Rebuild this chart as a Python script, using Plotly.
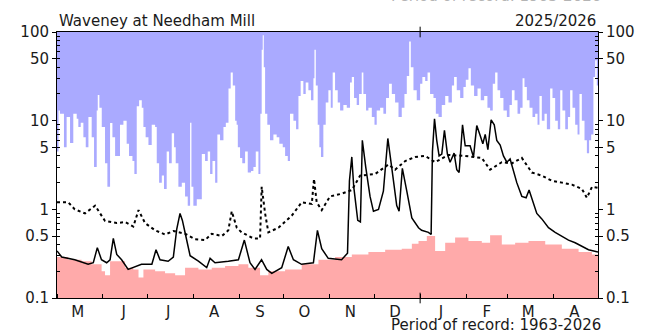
import pandas as pd
import plotly.graph_objects as go

START = "2025-05-01"
END = "2026-05-01"
TITLE = "Waveney at Needham Mill"
YEAR_LABEL = "2025/2026"
RECORD_LABEL = "Period of record: 1963-2026"

MONTH_LABELS = ["M", "J", "J", "A", "S", "O", "N", "D", "J", "F", "M", "A"]
Y_TICKS = [0.1, 0.5, 1, 5, 10, 50, 100]
Y_TICK_TEXT = ["0.1", "0.5", "1", "5", "10", "50", "100"]

# Daily maximum flow on record (m3/s): day offset from 1 May, value
max_day = [0, 1, 2, 4.7, 6.5, 8.8, 11, 13.3, 14.4, 16, 17.8, 19.4, 21.2, 23.4, 25, 26.8, 27.5, 28.6,
           30.2, 32.4, 34, 35.8, 37.4, 39.2, 42.5, 44.8, 47, 48.6, 50.9, 52.2, 53.8, 55.4, 57.2,
           58.3, 59.8, 61.7, 63.9, 66.2, 67.3, 68.9, 70.7, 72.2, 74, 75.6, 77.4, 79, 80.1, 81.9,
           84.2, 86.4, 88.2, 89.8, 90.7, 92, 94.3, 97.7, 99.9, 101.7, 103.3, 104.9, 106.7, 108.2,
           110, 112.3, 113.9, 115.7, 117.2, 118.6, 120.2, 121.2, 122, 123.5, 125, 126.9, 128.7,
           130.9, 132.5, 134.1, 135.9, 137.2, 138.1, 138.8, 139.5, 140.4, 141.9, 143.7, 146,
           148.2, 150, 152.3, 153.9, 155.7, 157.2, 159.5, 161.3, 162.9, 164.4, 166.2, 167.8,
           169.6, 171.4, 173, 173.7, 174.6, 175.9, 177, 178.1, 179.7, 181.3, 183.1, 184.7, 186,
           187.6, 189.4, 191, 193.2, 195.5, 197.7, 198.9, 200.4, 202.2, 203.8, 205.6, 206.7,
           208.5, 210.1, 212.4, 214.2, 215.7, 218, 220.2, 222, 224, 225.9, 228.1, 230.4, 232.6,
           234.4, 236, 237.6, 238.7, 240.5, 242.7, 245, 246.5, 248.4, 250, 251.7, 254, 255.6,
           257.4, 259.6, 261.9, 264.1, 266.4, 267.9, 269.7, 272, 274.2, 275.8, 277.6, 279.2,
           281.4, 283.7, 285.9, 288.2, 290.4, 292.2, 294, 295.6, 297.2, 299, 301.2, 303.5, 305.3,
           306.9, 308.7, 310.7, 312.5, 314.1, 315.4, 317, 318.8, 320.8, 322.6, 324.2, 325.5,
           327.1, 328.9, 330.5, 332.7, 334.3, 336.1, 337.9, 339.5, 341, 342.9, 344.7, 346.2,
           347.8, 349.6, 351.2, 352.5, 354.1, 355.9, 357.5, 359, 360.4, 361.9, 363.1, 364.2, 365]
max_val = [4.5, 13, 12, 5, 11, 5.6, 12, 10.5, 8.5, 9.5, 6.5, 5, 11, 6.5, 3.0, 13, 19.5, 14,
           8.5, 3.3, 1.8, 9.4, 6.5, 4.0, 9, 10, 5.5, 4, 3.5, 2.5, 14.5, 17, 14,
           8.5, 6.5, 5.3, 9, 8.5, 3.3, 2.0, 2.4, 1.7, 4.5, 3.3, 7.2, 5, 3.3, 1.8,
           2.0, 1.4, 1.1, 9.5, 1.8, 1.1, 1.3, 4.2, 3.5, 4.5, 2.5, 3.5, 2.0, 7,
           6, 8.5, 9.5, 23, 35, 25, 10, 9, 5, 3.8, 3.3, 4.5, 2.6,
           2.7, 3.0, 4.5, 2.5, 12, 63, 92, 40, 12, 9, 6, 7,
           6.5, 5.5, 5, 4, 3.5, 12, 10, 8, 19, 28, 20, 27,
           22, 17, 30, 63, 25, 9, 5, 3.9, 9, 16, 22, 14, 35,
           22, 16, 13, 15, 14, 27, 31, 18, 15, 20, 35, 20,
           13, 14, 11, 9, 13, 14, 12, 18, 26, 20, 16, 11, 14,
           20, 32, 78, 40, 22, 17, 26, 31, 28, 35, 20, 18, 12,
           11, 15, 19, 16, 25, 31, 22, 18, 24, 29, 39, 25,
           19, 23, 17, 19, 14, 13, 26, 35, 22, 18, 13, 11, 15,
           22, 17, 12, 14, 30, 24, 17, 14, 11, 12, 9, 19,
           10, 12, 8, 23, 18, 10, 8, 22, 13, 8, 11, 22,
           14, 9, 7, 20, 10, 6, 4.3, 6, 7, 31, 48, 25, 25]

# Daily minimum flow on record
min_day = [0, 7.6, 16.6, 23.4, 30.1, 32.4, 35.8, 41.4, 45.9, 51.5, 55, 58.3, 66.2, 72.9, 79.7,
           86.4, 95.4, 104.4, 113.4, 122.4, 129.1, 137, 142.6, 153.9, 165.1, 176.4, 187.6,
           198.9, 210.1, 221.4, 232.6, 239.4, 243.9, 249.5, 255.1, 261.9, 268.6, 277.6, 286.6,
           292.2, 300.1, 309.1, 318.1, 329.4, 340.6, 351.9, 360.9, 365]
min_val = [0.29, 0.27, 0.26, 0.24, 0.20, 0.18, 0.26, 0.26, 0.22, 0.21, 0.17, 0.21, 0.20, 0.19,
           0.18, 0.22, 0.21, 0.22, 0.23, 0.24, 0.22, 0.18, 0.20, 0.21, 0.24, 0.27, 0.29,
           0.31, 0.33, 0.35, 0.36, 0.41, 0.44, 0.50, 0.34, 0.42, 0.48, 0.44, 0.42,
           0.51, 0.40, 0.42, 0.44, 0.40, 0.36, 0.33, 0.31, 0.30]

# Long-term mean daily flow
mean_day = [0, 7.6, 12, 18.9, 25.7, 32.4, 40.3, 45.9, 51.5, 55, 59.4, 66.2, 72.9, 78.5, 86.4,
            93.2, 99.9, 104.4, 111.2, 115.6, 117.9, 121.3, 124.6, 132.5, 137, 138.1, 140.4,
            142.6, 149.4, 158.4, 165.1, 171.9, 173.4, 175.2, 178.6, 184.2, 192, 198.9, 204.5,
            214.6, 223.6, 228.1, 234.9, 241.6, 248.4, 255.1, 264.1, 275.4, 286.6, 292.2, 300.1,
            306.9, 313.6, 320.4, 327.1, 333.9, 340.6, 347.4, 354.1, 357.5, 361, 365]
mean_val = [1.2, 1.2, 1.0, 0.9, 1.1, 0.74, 0.7, 0.72, 0.64, 0.98, 0.7, 0.58, 0.52, 0.57, 0.53,
            0.46, 0.45, 0.53, 0.5, 0.58, 0.95, 0.62, 0.55, 0.47, 0.47, 1.8, 0.9,
            0.55, 0.62, 0.85, 1.2, 1.15, 2.2, 1.2, 0.98, 1.4, 1.5, 1.65, 2.4,
            2.5, 3.2, 2.8, 3.5, 3.9, 4.0, 3.4, 4.1, 4.0, 3.8, 2.8, 3.4,
            3.3, 3.8, 2.6, 2.4, 2.1, 2.0, 1.9, 1.7, 1.35, 1.8, 1.75]

# 2025/2026 daily mean flow
flow_day = [0, 3.2, 12, 21, 24.5, 27.2, 30, 33.5, 35.8, 38, 40.3, 43.6, 48, 51.5, 57, 64, 66.8,
            69.5, 75, 78.5, 80.8, 83, 84.6, 86.9, 89.8, 95.4, 101, 103.3, 106.6, 115.6, 122.4,
            126.4, 130.2, 133.6, 138, 141.5, 144.9, 151.6, 156, 159.5, 165, 173, 175.7, 178.6,
            183, 192, 196, 197.3, 198.9, 200.2, 202.9, 204.7, 206, 208.3, 211.2, 213.5, 216.9,
            220.2, 223.2, 225.8, 229.2, 230.8, 233, 236, 239.4, 243.9, 246, 250.6, 252.4, 253.3,
            254.7, 256.2, 257.8, 259.6, 261.4, 263.4, 265.2, 267.9, 269.7, 271.3, 273.6, 275.4,
            278.7, 281, 283.2, 285.5, 287.3, 288.9, 290.7, 292.9, 295, 296.7, 299, 301.2, 303.5,
            305.7, 308, 310.2, 313.6, 316.5, 318.5, 321.5, 323.7, 327.1, 331.6, 336.1, 340.6,
            345.1, 349.6, 354.1, 358.6, 365]
flow_val = [0.34, 0.29, 0.27, 0.24, 0.25, 0.37, 0.27, 0.25, 0.27, 0.47, 0.31, 0.27, 0.21, 0.22,
            0.24, 0.24, 0.35, 0.27, 0.26, 0.29, 0.6, 0.9, 0.75, 0.5, 0.3, 0.26, 0.22, 0.28, 0.25,
            0.26, 0.27, 0.45, 0.25, 0.21, 0.27, 0.21, 0.19, 0.22, 0.38, 0.27, 0.24, 0.25, 0.58,
            0.36, 0.28, 0.27, 0.32, 2.1, 3.9, 1.8, 0.75, 0.72, 6.0, 3.0, 1.4, 0.95, 1.0, 1.6,
            6.3, 3.0, 1.1, 0.95, 2.9, 1.6, 0.8, 0.62, 0.58, 0.55, 0.52, 4.5, 10.5, 6.0, 4.0,
            4.2, 7.8, 4.2, 3.4, 4.3, 2.8, 2.6, 9.0, 5.2, 5.2, 3.9, 8.8, 6.8, 5.5, 7.0, 4.7,
            10.2, 9.0, 6.0, 5.3, 4.0, 3.4, 3.7, 2.6, 2.0, 1.4, 1.35, 1.65, 1.2, 0.9, 0.78, 0.62,
            0.55, 0.5, 0.45, 0.42, 0.38, 0.35, 0.33]

BLUE = "#aaaaff"
PINK = "#ffaaaa"
FONT = "DejaVu Sans"
TEXT = "#1a1a1a"

t0 = pd.Timestamp(START)


def to_dates(days):
    return [t0 + pd.Timedelta(days=float(d)) for d in days]


edges = [t0, pd.Timestamp(END)]
month_starts = pd.date_range(START, END, freq="MS")
month_mids = [m + pd.Timedelta(days=14) for m in month_starts[:-1]]

fig = go.Figure()

# band above the daily maximum
fig.add_trace(go.Scatter(x=to_dates(max_day), y=max_val, mode="lines", line=dict(width=0, shape="hv"),
                         hoverinfo="skip", showlegend=False))
fig.add_trace(go.Scatter(x=edges, y=[1000, 1000], mode="lines", line=dict(width=0),
                         fill="tonexty", fillcolor=BLUE, hoverinfo="skip", showlegend=False))
# band below the daily minimum
fig.add_trace(go.Scatter(x=edges, y=[0.01, 0.01], mode="lines", line=dict(width=0),
                         hoverinfo="skip", showlegend=False))
fig.add_trace(go.Scatter(x=to_dates(min_day), y=min_val, mode="lines", line=dict(width=0, shape="hv"),
                         fill="tonexty", fillcolor=PINK, hoverinfo="skip", showlegend=False))
# long-term mean
fig.add_trace(go.Scatter(x=to_dates(mean_day), y=mean_val, mode="lines",
                         line=dict(color="black", width=2, dash="dot"), showlegend=False))
# current year flow
fig.add_trace(go.Scatter(x=to_dates(flow_day), y=flow_val, mode="lines",
                         line=dict(color="black", width=1.5), showlegend=False))
# right-hand axis carrier
fig.add_trace(go.Scatter(x=edges, y=[0.1, 100], mode="none", yaxis="y2",
                         hoverinfo="skip", showlegend=False))

minor_vals = [k * 10 ** e for e in (-1, 0, 1) for k in range(2, 10)]
yaxis_common = dict(
    type="log", range=[-1, 2], tickvals=Y_TICKS, ticktext=Y_TICK_TEXT,
    ticks="outside", ticklen=4, tickcolor="black", showgrid=False, zeroline=False,
    showline=True, linecolor="black", linewidth=1,
    tickfont=dict(family=FONT, size=15, color=TEXT),
    minor=dict(tickvals=minor_vals, ticks="inside", ticklen=3, tickcolor="black", showgrid=False),
)

fig.update_layout(
    width=660, height=333,
    margin=dict(l=57, r=62, t=32, b=35),
    paper_bgcolor="white", plot_bgcolor="white",
    xaxis=dict(
        type="date", range=edges, tickvals=month_mids, ticktext=MONTH_LABELS,
        ticks="", showgrid=False, zeroline=False, showline=True, linecolor="black",
        linewidth=1, mirror=True,
        tickfont=dict(family=FONT, size=15, color=TEXT),
        minor=dict(tickvals=list(month_starts), ticks="inside", ticklen=4,
                   tickcolor="black", showgrid=False),
    ),
    yaxis=dict(side="left", **yaxis_common),
    yaxis2=dict(side="right", overlaying="y", anchor="x", **yaxis_common),
    annotations=[
        dict(text=TITLE, xref="paper", yref="paper", x=0, y=1, xanchor="left", yanchor="bottom",
             showarrow=False, font=dict(family=FONT, size=15, color=TEXT)),
        dict(text=YEAR_LABEL, xref="paper", yref="paper", x=1, y=1, xanchor="right",
             yanchor="bottom", showarrow=False, font=dict(family=FONT, size=15, color=TEXT)),
        dict(text=RECORD_LABEL, xref="paper", yref="paper", x=1.01, y=-0.06, xanchor="right",
             yanchor="top", showarrow=False, font=dict(family=FONT, size=15, color=TEXT)),
        dict(text=RECORD_LABEL, xref="paper", yref="paper", x=1.01, y=1.094, xanchor="right",
             yanchor="bottom", showarrow=False, font=dict(family=FONT, size=15, color="#b4b4b4")),
    ],
    shapes=[
        dict(type="line", xref="x", yref="paper", x0="2026-01-01", x1="2026-01-01",
             y0=-0.02, y1=0.02, line=dict(color="black", width=1)),
        dict(type="line", xref="x", yref="paper", x0="2026-01-01", x1="2026-01-01",
             y0=0.98, y1=1.02, line=dict(color="black", width=1)),
    ],
)

fig.write_html("out.html")
